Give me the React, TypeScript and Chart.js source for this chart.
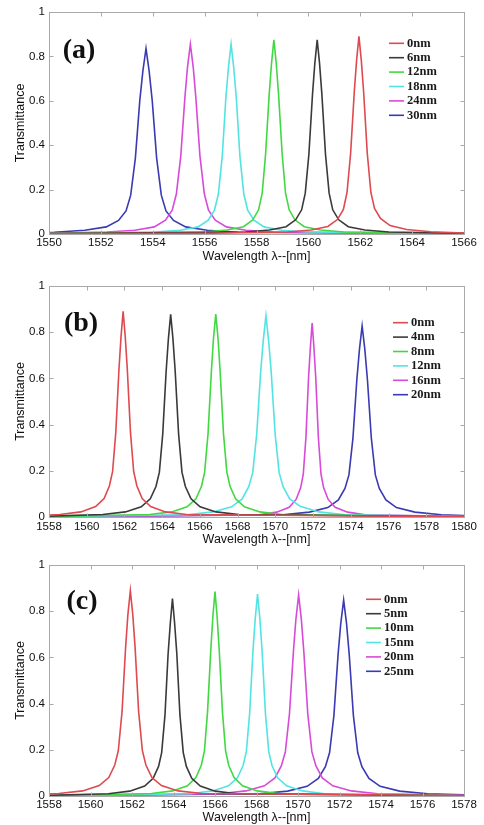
import React, { useEffect, useRef } from 'react';
import { Chart, registerables } from 'chart.js';

Chart.register(...registerables);

type Pt = [number, number];

// ---------- Panel (a) : 1550–1566 nm ----------
const xTicksA = { min: 1550, max: 1566, step: 2 };
const labelsA = ['0nm', '6nm', '12nm', '18nm', '24nm', '30nm'];
const aRed: Pt[] = [[1550,0.002],[1556,0.003],[1559.19,0.009],[1560.11,0.018],[1560.75,0.034],[1561.12,0.065],[1561.35,0.111],[1561.49,0.187],[1561.63,0.365],[1561.77,0.641],[1561.86,0.783],[1561.95,0.89],[1562.04,0.783],[1562.13,0.641],[1562.27,0.365],[1562.41,0.187],[1562.55,0.115],[1562.78,0.07],[1563.15,0.038],[1563.79,0.02],[1564.71,0.01],[1566,0.004]];
const aBlack: Pt[] = [[1550,0.002],[1557.58,0.009],[1558.5,0.018],[1559.14,0.033],[1559.51,0.064],[1559.74,0.109],[1559.88,0.184],[1560.02,0.359],[1560.16,0.63],[1560.25,0.77],[1560.34,0.875],[1560.43,0.77],[1560.52,0.63],[1560.66,0.359],[1560.8,0.184],[1560.94,0.109],[1561.17,0.064],[1561.54,0.033],[1562.18,0.018],[1563.1,0.009],[1566,0.003]];
const aGreen: Pt[] = [[1550,0.002],[1555.97,0.009],[1556.87,0.018],[1557.5,0.033],[1557.86,0.064],[1558.08,0.109],[1558.22,0.184],[1558.35,0.359],[1558.49,0.63],[1558.58,0.77],[1558.67,0.875],[1558.76,0.77],[1558.85,0.63],[1558.99,0.359],[1559.12,0.184],[1559.26,0.109],[1559.48,0.064],[1559.84,0.033],[1560.47,0.018],[1561.37,0.009],[1566,0.002]];
const aCyan: Pt[] = [[1550,0.002],[1554.08,0.009],[1555.06,0.017],[1555.75,0.032],[1556.14,0.062],[1556.38,0.107],[1556.53,0.18],[1556.68,0.351],[1556.82,0.616],[1556.92,0.752],[1557.02,0.855],[1557.12,0.752],[1557.22,0.616],[1557.36,0.351],[1557.51,0.18],[1557.66,0.107],[1557.9,0.062],[1558.29,0.032],[1558.98,0.017],[1559.96,0.009],[1566,0.002]];
const aMagenta: Pt[] = [[1550,0.003],[1552.24,0.009],[1553.31,0.017],[1554.06,0.032],[1554.49,0.062],[1554.75,0.107],[1554.91,0.18],[1555.08,0.351],[1555.24,0.616],[1555.34,0.752],[1555.45,0.855],[1555.56,0.752],[1555.66,0.616],[1555.82,0.351],[1555.99,0.18],[1556.15,0.107],[1556.41,0.062],[1556.84,0.032],[1557.59,0.017],[1558.66,0.009],[1566,0.002]];
const aBlue: Pt[] = [[1550,0.007],[1550.2,0.008],[1551.38,0.017],[1552.21,0.032],[1552.68,0.061],[1552.97,0.104],[1553.15,0.175],[1553.33,0.342],[1553.5,0.601],[1553.62,0.735],[1553.74,0.835],[1553.86,0.735],[1553.98,0.601],[1554.15,0.342],[1554.33,0.175],[1554.51,0.104],[1554.8,0.061],[1555.27,0.032],[1556.1,0.017],[1557.28,0.008],[1566,0.002]];

// ---------- Panel (b) : 1558–1580 nm ----------
const xTicksB = { min: 1558, max: 1580, step: 2 };
const labelsB = ['0nm', '4nm', '8nm', '12nm', '16nm', '20nm'];
const bRed: Pt[] = [[1558,0.008],[1558.57,0.011],[1559.69,0.022],[1560.47,0.045],[1560.92,0.08],[1561.2,0.134],[1561.37,0.196],[1561.54,0.365],[1561.71,0.641],[1561.82,0.783],[1561.93,0.89],[1562.04,0.783],[1562.15,0.641],[1562.32,0.365],[1562.49,0.196],[1562.66,0.134],[1562.94,0.08],[1563.39,0.045],[1564.17,0.022],[1565.29,0.011],[1580,0.001]];
const bBlack: Pt[] = [[1558,0.004],[1560.85,0.011],[1562.05,0.022],[1562.89,0.044],[1563.37,0.079],[1563.67,0.132],[1563.85,0.193],[1564.03,0.36],[1564.21,0.631],[1564.33,0.772],[1564.45,0.877],[1564.57,0.772],[1564.69,0.631],[1564.87,0.36],[1565.05,0.193],[1565.23,0.132],[1565.53,0.079],[1566.01,0.044],[1566.85,0.022],[1568.05,0.011],[1580,0.001]];
const bGreen: Pt[] = [[1558,0.002],[1563.33,0.011],[1564.5,0.022],[1565.32,0.044],[1565.79,0.079],[1566.08,0.132],[1566.25,0.193],[1566.43,0.36],[1566.61,0.633],[1566.72,0.774],[1566.84,0.879],[1566.96,0.774],[1567.07,0.633],[1567.25,0.36],[1567.43,0.193],[1567.6,0.132],[1567.89,0.079],[1568.36,0.044],[1569.18,0.022],[1570.35,0.011],[1580,0.001]];
const bCyan: Pt[] = [[1558,0.002],[1565.3,0.01],[1566.7,0.022],[1567.68,0.044],[1568.24,0.078],[1568.59,0.131],[1568.8,0.192],[1569.01,0.357],[1569.22,0.627],[1569.36,0.766],[1569.5,0.871],[1569.64,0.766],[1569.78,0.627],[1569.99,0.357],[1570.2,0.192],[1570.41,0.131],[1570.76,0.078],[1571.32,0.046],[1572.3,0.022],[1573.7,0.01],[1580,0.002]];
const bMagenta: Pt[] = [[1558,0.001],[1569.13,0.01],[1570.07,0.021],[1570.73,0.042],[1571.1,0.076],[1571.34,0.126],[1571.48,0.185],[1571.62,0.344],[1571.76,0.605],[1571.86,0.739],[1571.95,0.84],[1572.04,0.739],[1572.14,0.605],[1572.28,0.344],[1572.42,0.185],[1572.56,0.126],[1572.8,0.076],[1573.17,0.042],[1573.83,0.021],[1574.77,0.01],[1580,0.002]];
const bBlue: Pt[] = [[1558,0.001],[1570.4,0.01],[1571.8,0.021],[1572.78,0.041],[1573.34,0.074],[1573.69,0.124],[1573.9,0.182],[1574.11,0.339],[1574.32,0.595],[1574.46,0.728],[1574.6,0.827],[1574.74,0.728],[1574.88,0.595],[1575.09,0.339],[1575.3,0.182],[1575.51,0.124],[1575.86,0.074],[1576.42,0.041],[1577.4,0.021],[1578.8,0.01],[1580,0.006]];

// ---------- Panel (c) : 1558–1578 nm ----------
const xTicksC = { min: 1558, max: 1578, step: 2 };
const labelsC = ['0nm', '5nm', '10nm', '15nm', '20nm', '25nm'];
const cRed: Pt[] = [[1558,0.009],[1558.47,0.011],[1559.62,0.022],[1560.42,0.045],[1560.88,0.08],[1561.17,0.134],[1561.34,0.196],[1561.52,0.365],[1561.69,0.641],[1561.8,0.783],[1561.92,0.889],[1562.04,0.783],[1562.15,0.641],[1562.32,0.365],[1562.5,0.196],[1562.67,0.134],[1562.96,0.08],[1563.42,0.045],[1564.22,0.022],[1565.37,0.011],[1578,0.002]];
const cBlack: Pt[] = [[1558,0.003],[1560.86,0.01],[1561.89,0.021],[1562.61,0.043],[1563.02,0.077],[1563.28,0.128],[1563.43,0.188],[1563.59,0.351],[1563.74,0.616],[1563.85,0.752],[1563.95,0.855],[1564.05,0.752],[1564.16,0.616],[1564.31,0.351],[1564.47,0.188],[1564.62,0.128],[1564.88,0.077],[1565.29,0.043],[1566.01,0.021],[1567.04,0.01],[1578,0.001]];
const cGreen: Pt[] = [[1558,0.001],[1562.94,0.011],[1563.96,0.022],[1564.67,0.044],[1565.08,0.08],[1565.34,0.133],[1565.49,0.195],[1565.64,0.363],[1565.8,0.637],[1565.9,0.779],[1566,0.885],[1566.1,0.779],[1566.2,0.637],[1566.36,0.363],[1566.51,0.195],[1566.66,0.133],[1566.92,0.08],[1567.33,0.044],[1568.04,0.022],[1569.06,0.011],[1578,0.001]];
const cCyan: Pt[] = [[1558,0.001],[1564.81,0.01],[1565.89,0.022],[1566.65,0.044],[1567.08,0.079],[1567.35,0.131],[1567.51,0.192],[1567.67,0.358],[1567.83,0.629],[1567.94,0.769],[1568.05,0.874],[1568.16,0.769],[1568.27,0.629],[1568.43,0.358],[1568.59,0.192],[1568.75,0.131],[1569.02,0.079],[1569.45,0.044],[1570.21,0.022],[1571.29,0.01],[1578,0.001]];
const cMagenta: Pt[] = [[1558,0.001],[1566.22,0.01],[1567.49,0.022],[1568.38,0.044],[1568.89,0.078],[1569.2,0.131],[1569.39,0.191],[1569.59,0.357],[1569.78,0.626],[1569.9,0.766],[1570.03,0.87],[1570.16,0.766],[1570.28,0.626],[1570.47,0.357],[1570.67,0.191],[1570.86,0.131],[1571.17,0.078],[1571.68,0.044],[1572.57,0.022],[1573.84,0.01],[1578,0.003]];
const cBlue: Pt[] = [[1558,0.001],[1568.15,0.01],[1569.5,0.021],[1570.44,0.042],[1570.98,0.076],[1571.32,0.127],[1571.52,0.187],[1571.73,0.348],[1571.93,0.611],[1572.06,0.746],[1572.2,0.848],[1572.34,0.746],[1572.47,0.611],[1572.67,0.348],[1572.88,0.187],[1573.08,0.127],[1573.42,0.076],[1573.96,0.042],[1574.9,0.021],[1576.25,0.01],[1578,0.005]];

const yTicks = { min: 0, max: 1, step: 0.2 };
const lineColors = ['#de4a4f', '#3a3a3a', '#42d842', '#52e4e2', '#d84ad8', '#3a3ab2'];
const xTitle = 'Wavelength λ--[nm]';
const yTitle = 'Transmittance';

interface PanelCfg {
  tag: string;
  top: number;
  height: number;
  padTop: number;
  xAxisH: number;
  tickPad: number;
  titlePad: number;
  xr: { min: number; max: number; step: number };
  series: Pt[][];
  labels: string[];
  legendX: number;
  legendY: number;
  tagX: number;
  tagY: number;
}

const panels: PanelCfg[] = [
  { tag: '(a)', top: 0, height: 270, padTop: 12, xAxisH: 36, tickPad: 1.8, titlePad: 5.8, xr: xTicksA,
    series: [aRed, aBlack, aGreen, aCyan, aMagenta, aBlue], labels: labelsA, legendX: 340, legendY: 31.3, tagX: 30, tagY: 39 },
  { tag: '(b)', top: 270, height: 283, padTop: 16, xAxisH: 36, tickPad: 3.4, titlePad: 5.5, xr: xTicksB,
    series: [bRed, bBlack, bGreen, bCyan, bMagenta, bBlue], labels: labelsB, legendX: 344, legendY: 36.7, tagX: 32, tagY: 38 },
  { tag: '(c)', top: 553, height: 272, padTop: 12, xAxisH: 29, tickPad: 2, titlePad: 0, xr: xTicksC,
    series: [cRed, cBlack, cGreen, cCyan, cMagenta, cBlue], labels: labelsC, legendX: 317, legendY: 34.3, tagX: 33, tagY: 37 },
];

function Panel({ cfg }: { cfg: PanelCfg }) {
  const ref = useRef<HTMLCanvasElement>(null);
  useEffect(() => {
    const canvas = ref.current!;
    const framePlugin = {
      id: 'frame_' + cfg.tag,
      afterDatasetsDraw(chart: any) {
        const { ctx, chartArea: a, scales } = chart;
        ctx.save();
        ctx.strokeStyle = '#a9a9a9';
        ctx.lineWidth = 1;
        const L = Math.round(a.left) + 0.5, R = Math.round(a.right) + 0.5;
        const T = Math.round(a.top) + 0.5, B = Math.round(a.bottom) + 0.5;
        ctx.strokeRect(L, T, R - L, B - T);
        ctx.beginPath();
        scales.x.ticks.forEach((t: any) => {
          const px = Math.round(scales.x.getPixelForValue(t.value)) + 0.5;
          ctx.moveTo(px, B); ctx.lineTo(px, B - 4);
          ctx.moveTo(px, T); ctx.lineTo(px, T + 4);
        });
        scales.y.ticks.forEach((t: any) => {
          const py = Math.round(scales.y.getPixelForValue(t.value)) + 0.5;
          ctx.moveTo(L, py); ctx.lineTo(L + 4, py);
          ctx.moveTo(R, py); ctx.lineTo(R - 4, py);
        });
        ctx.stroke();
        // panel tag
        ctx.fillStyle = '#111';
        ctx.font = 'bold 28px "Liberation Serif", serif';
        ctx.textAlign = 'center';
        ctx.textBaseline = 'middle';
        ctx.fillText(cfg.tag, a.left + cfg.tagX, a.top + cfg.tagY);
        // legend
        ctx.font = 'bold 12.5px "Liberation Serif", serif';
        ctx.textAlign = 'left';
        cfg.labels.forEach((lab, i) => {
          const y = a.top + cfg.legendY + i * 14.4;
          const x = a.left + cfg.legendX;
          ctx.strokeStyle = lineColors[i];
          ctx.lineWidth = 1.6;
          ctx.beginPath();
          ctx.moveTo(x, y); ctx.lineTo(x + 15, y);
          ctx.stroke();
          ctx.fillStyle = '#1a1a1a';
          ctx.fillText(lab, x + 18, y);
        });
        ctx.restore();
      },
    };

    const tickFont = { family: '"Liberation Sans", Arial, sans-serif', size: 11.5 };
    const titleFont = { family: '"Liberation Sans", Arial, sans-serif', size: 12.5 };

    const chart = new Chart(canvas, {
      type: 'scatter',
      data: {
        datasets: cfg.series.map((s, i) => ({
          label: cfg.labels[i],
          data: s.map(([x, y]) => ({ x, y })),
          showLine: true,
          borderColor: lineColors[i],
          backgroundColor: lineColors[i],
          borderWidth: 1.6,
          pointRadius: 0,
          tension: 0,
        })),
      },
      options: {
        animation: false,
        responsive: false,
        devicePixelRatio: 1,
        events: [],
        layout: { padding: { left: 0, top: cfg.padTop, right: 20, bottom: 0 } },
        plugins: { legend: { display: false }, tooltip: { enabled: false }, title: { display: false } },
        scales: {
          x: {
            type: 'linear',
            min: cfg.xr.min,
            max: cfg.xr.max,
            grid: { display: false, drawTicks: false },
            border: { display: false },
            ticks: {
              stepSize: cfg.xr.step,
              autoSkip: false,
              maxRotation: 0,
              padding: cfg.tickPad,
              color: '#111',
              font: tickFont,
              callback: (v: any) => String(v),
            },
            title: { display: true, text: xTitle, color: '#111', font: titleFont, padding: { top: 0, bottom: cfg.titlePad } },
            afterFit: (s: any) => { s.height = cfg.xAxisH; },
          },
          y: {
            type: 'linear',
            min: yTicks.min,
            max: yTicks.max,
            grid: { display: false, drawTicks: false },
            border: { display: false },
            ticks: {
              stepSize: yTicks.step,
              padding: 4,
              color: '#111',
              font: tickFont,
              callback: (v: any) => String(Math.round(Number(v) * 10) / 10),
            },
            title: { display: true, text: yTitle, color: '#111', font: titleFont, padding: { top: 13.5, bottom: 0 } },
            afterFit: (s: any) => { s.width = 49; },
          },
        },
      },
      plugins: [framePlugin],
    } as any);
    return () => chart.destroy();
  }, [cfg]);

  return (
    <canvas
      ref={ref}
      width={484}
      height={cfg.height}
      style={{ position: 'absolute', left: 0, top: cfg.top, width: 484, height: cfg.height }}
    />
  );
}

export default function App() {
  return (
    <div style={{ position: 'absolute', left: 0, top: 0, width: 484, height: 825, background: '#fff', overflow: 'hidden' }}>
      {panels.map((p) => (
        <Panel key={p.tag} cfg={p} />
      ))}
    </div>
  );
}
